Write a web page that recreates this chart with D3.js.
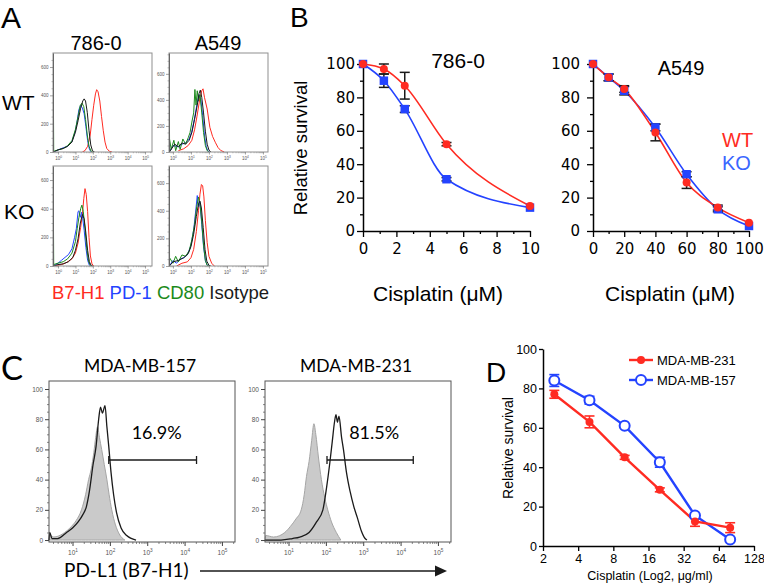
<!DOCTYPE html>
<html><head><meta charset="utf-8">
<script src="https://cdn.jsdelivr.net/npm/d3@7"></script>
<style>body{margin:0;background:#fff}svg{display:block}</style>
</head><body>
<svg id="fig" width="764" height="584"></svg>
<script>
// ================= DATA =================
// Panel A: flow histograms, points are [log10 intensity, event count]
const flowCells = ["786-0", "A549"];
const flowRows = ["WT", "KO"];
const flowMarkers = ["B7-H1", "PD-1", "CD80", "Isotype"];
const histLogTicks = [0, 1, 2, 3, 4, 5];
const histCountTicks = [0, 200, 400, 600];

const a786WT_B7H1 = [[1.4,0],[1.55,10],[1.7,40],[1.85,120],[1.95,230],[2.05,330],[2.15,410],[2.22,440],[2.3,425],[2.4,360],[2.5,250],[2.6,150],[2.7,70],[2.8,25],[2.95,5],[3.1,0]];
const a786WT_PD1 = [[-0.25,0],[0,15],[0.3,30],[0.55,40],[0.8,75],[1.0,150],[1.1,220],[1.2,300],[1.3,330],[1.4,310],[1.5,270],[1.6,180],[1.7,80],[1.8,20],[1.9,0]];
const a786WT_CD80 = [[-0.28,690],[-0.25,5],[0,15],[0.3,25],[0.55,45],[0.8,80],[1.0,160],[1.15,250],[1.28,330],[1.38,345],[1.48,320],[1.58,230],[1.68,120],[1.78,40],[1.9,5],[2.0,0]];
const a786WT_Iso = [[-0.25,0],[0,15],[0.3,25],[0.55,40],[0.8,70],[1.0,140],[1.15,220],[1.3,310],[1.42,360],[1.5,375],[1.58,360],[1.68,280],[1.78,150],[1.88,50],[1.98,8],[2.1,0]];

const aA549WT_B7H1 = [[0.3,10],[0.6,25],[0.85,50],[1.05,90],[1.2,170],[1.33,270],[1.5,415],[1.6,470],[1.67,485],[1.75,420],[1.9,330],[2.05,190],[2.2,120],[2.35,75],[2.5,35],[2.65,12],[2.85,0]];
const aA549WT_PD1 = [[-0.2,0],[0,50],[0.3,40],[0.5,60],[0.7,70],[0.9,100],[1.05,160],[1.2,260],[1.35,380],[1.45,440],[1.55,400],[1.65,280],[1.75,130],[1.85,40],[1.95,5],[2.05,0]];
const aA549WT_CD80 = [[-0.21,740],[-0.19,100],[-0.1,20],[0.05,90],[0.15,10],[0.3,80],[0.4,20],[0.55,100],[0.7,60],[0.85,110],[0.95,150],[1.05,230],[1.15,300],[1.22,480],[1.28,360],[1.35,470],[1.42,390],[1.5,440],[1.6,300],[1.7,150],[1.8,50],[1.9,10],[2.0,0]];
const aA549WT_Iso = [[-0.2,0],[0.1,60],[0.3,40],[0.5,70],[0.7,60],[0.9,90],[1.05,150],[1.2,250],[1.35,360],[1.45,450],[1.52,475],[1.6,420],[1.7,300],[1.8,160],[1.9,60],[2.0,15],[2.1,0]];

const a786KO_B7H1 = [[-0.25,0],[0.2,10],[0.5,25],[0.8,50],[1.0,90],[1.15,160],[1.3,270],[1.4,360],[1.48,470],[1.55,540],[1.62,500],[1.7,380],[1.78,200],[1.86,70],[1.95,15],[2.05,0]];
const a786KO_PD1 = [[-0.25,0],[0,20],[0.2,40],[0.4,60],[0.6,80],[0.8,120],[0.95,200],[1.05,260],[1.15,380],[1.2,385],[1.28,340],[1.35,375],[1.42,330],[1.5,250],[1.6,130],[1.7,40],[1.8,5],[1.9,0]];
const a786KO_CD80 = [[-0.28,690],[-0.25,10],[0,20],[0.3,30],[0.55,50],[0.8,90],[1.0,170],[1.1,260],[1.2,340],[1.3,400],[1.37,425],[1.45,380],[1.55,260],[1.65,120],[1.75,35],[1.85,5],[1.95,0]];
const a786KO_Iso = [[-0.25,0],[0,10],[0.3,15],[0.6,30],[0.85,60],[1.0,110],[1.15,190],[1.28,300],[1.4,360],[1.5,330],[1.6,230],[1.7,110],[1.8,30],[1.9,5],[2.0,0]];

const aA549KO_B7H1 = [[0.2,0],[0.5,20],[0.8,30],[1.0,60],[1.15,120],[1.3,250],[1.42,400],[1.5,520],[1.58,590],[1.65,580],[1.72,500],[1.8,330],[1.9,170],[2.0,70],[2.15,20],[2.3,0]];
const aA549KO_PD1 = [[-0.2,0],[0,40],[0.2,20],[0.4,50],[0.6,60],[0.8,80],[1.0,150],[1.15,260],[1.28,420],[1.35,510],[1.42,430],[1.5,460],[1.6,300],[1.7,140],[1.8,40],[1.9,5],[2.0,0]];
const aA549KO_CD80 = [[-0.21,720],[-0.19,60],[0,20],[0.15,70],[0.3,30],[0.5,80],[0.7,70],[0.9,110],[1.05,190],[1.2,300],[1.32,430],[1.42,500],[1.5,450],[1.6,320],[1.7,150],[1.8,40],[1.9,5],[2.0,0]];
const aA549KO_Iso = [[-0.2,0],[0,30],[0.3,40],[0.6,60],[0.85,90],[1.0,140],[1.15,230],[1.3,360],[1.42,450],[1.5,470],[1.58,420],[1.68,280],[1.78,120],[1.88,35],[2.0,5],[2.1,0]];

// Panel B: dose-response (relative survival, %)
const survivalTicks = [0, 20, 40, 60, 80, 100];
const dose786 = [0, 1.25, 2.5, 5, 10];
const wt786 = [100, 97, 87, 52, 15];
const wt786Err = [0, 3, 8, 1, 0];
const ko786 = [100, 90, 73, 31, 14];
const ko786Err = [0, 4, 2, 1, 0];
const dose786Ticks = [0, 2, 4, 6, 8, 10];

const doseA549 = [0, 10, 20, 40, 60, 80, 100];
const wtA549 = [100, 92, 85, 59, 29, 14, 5];
const wtA549Err = [0, 2, 2, 5, 3.5, 1.5, 0];
const koA549 = [100, 92, 84, 62, 34, 13, 3];
const koA549Err = [0, 2, 2.5, 2, 1.5, 1.5, 0];
const doseA549Ticks = [0, 20, 40, 60, 80, 100];

// Panel C: PD-L1 flow (log10 intensity, % of max)
const flowCTicks = [1, 2, 3, 4, 5];
const pctTicks = [0, 20, 40, 60, 80, 100];
const c157Iso = [[0.37,0],[0.39,3],[0.5,2],[0.73,4],[0.97,9],[1.1,13],[1.24,20],[1.35,30],[1.43,40],[1.5,47],[1.57,58],[1.62,68],[1.67,75],[1.72,68],[1.78,60],[1.85,50],[1.92,40],[1.98,30],[2.05,20],[2.15,10],[2.25,4],[2.4,0]];
const c157PDL1 = [[0.37,0],[0.39,5],[0.45,1],[0.6,1],[0.84,5],[1.0,8],[1.15,12],[1.28,17],[1.37,22],[1.45,32],[1.55,50],[1.63,62],[1.7,80],[1.75,88],[1.8,84],[1.87,89],[1.92,75],[1.97,62],[2.03,45],[2.1,30],[2.18,18],[2.3,8],[2.45,3],[2.7,0]];
const c231Iso = [[0.37,0],[0.39,3],[0.6,2],[0.9,5],[1.05,9],[1.2,14],[1.34,20],[1.42,30],[1.48,42],[1.55,52],[1.62,66],[1.68,77],[1.73,70],[1.8,55],[1.88,40],[1.97,28],[2.05,20],[2.15,12],[2.28,5],[2.4,0]];
const c231PDL1 = [[0.37,0],[0.8,0],[1.1,1],[1.3,2],[1.55,5],[1.75,12],[1.92,20],[2.02,35],[2.1,50],[2.17,65],[2.23,78],[2.27,83],[2.31,78],[2.35,82],[2.42,68],[2.47,60],[2.55,45],[2.65,32],[2.75,22],[2.84,15],[2.95,6],[3.05,1],[3.1,0]];
const gate157 = [1.97, 4.32, 53];
const gate231 = [2.03, 4.34, 53];
const pct157 = "16.9%";
const pct231 = "81.5%";

// Panel D
const doseD = [2.5, 5, 10, 20, 40, 80];
const doseDTicks = [2, 4, 8, 16, 32, 64, 128];
const mb231 = [77, 63, 45, 28.5, 12.5, 9.3];
const mb231Err = [2, 3, 1, 1, 2.5, 2.5];
const mb157 = [84, 74, 61, 42.5, 15.5, 3.3];
const mb157Err = [3, 2, 0.8, 2.5, 1, 0];

// ================= DRAWING =================
const SANS = "'Liberation Sans', Arial, Helvetica, sans-serif";
const LATO = "Lato, 'Open Sans', sans-serif";
const RED = "#ff2b22", BLUE = "#2443ff", GREEN = "#1b8a1b", BLK = "#1a1a1a";
const svg = d3.select("#fig");
svg.append("rect").attr("width", 764).attr("height", 584).attr("fill", "#fff");

function txt(g, x, y, s, size, opts = {}) {
  return g.append("text").attr("x", x).attr("y", y).text(s)
    .style("font-family", opts.font || SANS).style("font-size", size + "px")
    .attr("fill", opts.fill || "#000").attr("text-anchor", opts.anchor || "start");
}

function supTicks(axisG, size, y, fill) {
  axisG.selectAll(".tick").append("text").attr("y", y).attr("fill", fill)
    .attr("text-anchor", "middle").style("font-size", size + "px").style("font-family", SANS)
    .each(function (d) {
      const t = d3.select(this);
      t.append("tspan").text("10");
      t.append("tspan").attr("dy", -size * 0.4).style("font-size", (size * 0.72) + "px").text(d);
    });
}

function logMinor(dom) {
  const out = [];
  for (let k = Math.floor(dom[0]); k < dom[1]; k++)
    for (let i = 2; i <= 9; i++) { const v = k + Math.log10(i); if (v > dom[0] && v < dom[1]) out.push(v); }
  return out;
}

// ---------- Panel A ----------
let clipId = 0;
function flowA(x0, y0, w, h, xDom, yMax, series) {
  const g = svg.append("g");
  const xs = d3.scaleLinear(xDom, [x0, x0 + w]);
  const ys = d3.scaleLinear([0, yMax], [y0 + h, y0]);
  const id = "clipA" + (clipId++);
  svg.append("clipPath").attr("id", id).append("rect").attr("x", x0).attr("y", y0).attr("width", w).attr("height", h);
  const line = d3.line().x(d => xs(d[0])).y(d => ys(d[1]));
  const pg = g.append("g").attr("clip-path", `url(#${id})`);
  series.forEach(s => pg.append("path").attr("d", line(s.data)).attr("fill", "none")
    .attr("stroke", s.color).attr("stroke-width", 1).attr("stroke-linejoin", "round"));
  g.append("rect").attr("x", x0).attr("y", y0).attr("width", w).attr("height", h)
    .attr("fill", "none").attr("stroke", "#8f8f8f").attr("stroke-width", 1);
  const ya = g.append("g").attr("transform", `translate(${x0},0)`)
    .call(d3.axisLeft(ys).tickValues(histCountTicks).tickSize(3).tickPadding(1.5).tickSizeOuter(0));
  ya.select(".domain").attr("stroke", "#666");
  ya.selectAll("text").style("font-size", "4.5px").style("font-family", SANS).attr("fill", "#555");
  ya.selectAll("line").attr("stroke", "#666").attr("stroke-width", 0.6);
  const ym = g.append("g").attr("transform", `translate(${x0},0)`)
    .call(d3.axisLeft(ys).tickValues(d3.range(50, yMax, 50).filter(v => v % 200 !== 0)).tickSize(1.5).tickFormat(""));
  ym.select(".domain").remove(); ym.selectAll("line").attr("stroke", "#777").attr("stroke-width", 0.5);
  const xa = g.append("g").attr("transform", `translate(0,${y0 + h})`)
    .call(d3.axisBottom(xs).tickValues(histLogTicks).tickSize(2.5).tickFormat(""));
  xa.select(".domain").remove(); xa.selectAll("line").attr("stroke", "#666").attr("stroke-width", 0.6);
  supTicks(xa, 4.5, 8, "#555");
  const xm = g.append("g").attr("transform", `translate(0,${y0 + h})`)
    .call(d3.axisBottom(xs).tickValues(logMinor(xDom)).tickSize(1.3).tickFormat(""));
  xm.select(".domain").remove(); xm.selectAll("line").attr("stroke", "#777").attr("stroke-width", 0.4);
}
const colA = [RED, BLUE, GREEN, BLK];
const mk = arrs => arrs.map((d, i) => ({ data: d, color: colA[i] }));
flowA(53, 53, 99, 99, [-0.29, 5.4], 699, mk([a786WT_B7H1, a786WT_PD1, a786WT_CD80, a786WT_Iso]));
flowA(169, 53, 99, 99, [-0.22, 5.28], 760, mk([aA549WT_B7H1, aA549WT_PD1, aA549WT_CD80, aA549WT_Iso]));
flowA(53, 166, 99, 100, [-0.29, 5.4], 698, mk([a786KO_B7H1, a786KO_PD1, a786KO_CD80, a786KO_Iso]));
flowA(169, 166, 99, 100, [-0.22, 5.28], 724, mk([aA549KO_B7H1, aA549KO_PD1, aA549KO_CD80, aA549KO_Iso]));

txt(svg, 1, 28, "A", 30);
txt(svg, 96, 50, flowCells[0], 20, { anchor: "middle" });
txt(svg, 218, 50, flowCells[1], 20, { anchor: "middle" });
txt(svg, 2, 110, flowRows[0], 21);
txt(svg, 4, 219, flowRows[1], 21);
const leg = txt(svg, 52, 299, "", 18.5);
flowMarkers.forEach((m, i) => leg.append("tspan").text((i ? " " : "") + m).attr("fill", colA[i]));

// ---------- Panel B ----------
function doseB(xDom, xRange, xTicks, xMinor, dose, wt, wtE, ko, koE, padY) {
  const g = svg.append("g");
  const xs = d3.scaleLinear(xDom, xRange);
  const ys = d3.scaleLinear([0, 100], [231, 64]);
  const styleAx = a => {
    a.select(".domain").attr("stroke", "#000").attr("stroke-width", 1.5);
    a.selectAll("line").attr("stroke", "#000").attr("stroke-width", 1.3);
    a.selectAll("text").style("font-family", "'DejaVu Sans', sans-serif").style("font-size", "15px").attr("fill", "#000");
  };
  const yMinor = g.append("g").attr("transform", `translate(${xRange[0]},0)`)
    .call(d3.axisLeft(ys).tickValues([10, 30, 50, 70, 90]).tickSize(3).tickFormat(""));
  yMinor.select(".domain").remove(); yMinor.selectAll("line").attr("stroke-width", 1.3);
  const xMin = g.append("g").attr("transform", `translate(0,231)`)
    .call(d3.axisBottom(xs).tickValues(xMinor).tickSize(3).tickFormat(""));
  xMin.select(".domain").remove(); xMin.selectAll("line").attr("stroke-width", 1.3);
  styleAx(g.append("g").attr("transform", `translate(${xRange[0]},0)`)
    .call(d3.axisLeft(ys).tickValues(survivalTicks).tickSize(6).tickPadding(padY).tickSizeOuter(0)));
  styleAx(g.append("g").attr("transform", `translate(0,231)`)
    .call(d3.axisBottom(xs).tickValues(xTicks).tickSize(6).tickPadding(6).tickSizeOuter(0)));
  const line = d3.line().x((d, i) => xs(dose[i])).y(d => ys(d)).curve(d3.curveMonotoneX);
  g.append("path").attr("d", line(ko)).attr("fill", "none").attr("stroke", BLUE).attr("stroke-width", 1.6);
  g.append("path").attr("d", line(wt)).attr("fill", "none").attr("stroke", RED).attr("stroke-width", 1.6);
  const errs = (vals, es) => vals.forEach((v, i) => {
    if (!es[i]) return;
    const x = xs(dose[i]), y1 = ys(v + es[i]), y2 = ys(v - es[i]);
    g.append("line").attr("x1", x).attr("x2", x).attr("y1", y1).attr("y2", y2).attr("stroke", BLK).attr("stroke-width", 1.5);
    [y1, y2].forEach(y => g.append("line").attr("x1", x - 5).attr("x2", x + 5).attr("y1", y).attr("y2", y).attr("stroke", BLK).attr("stroke-width", 1.5));
  });
  errs(ko, koE); errs(wt, wtE);
  g.selectAll(null).data(ko).join("path").attr("d", d3.symbol(d3.symbolSquare, 72))
    .attr("transform", (d, i) => `translate(${xs(dose[i])},${ys(d)})`).attr("fill", BLUE);
  g.selectAll(null).data(wt).join("circle").attr("cx", (d, i) => xs(dose[i])).attr("cy", d => ys(d))
    .attr("r", 4).attr("fill", RED);
}
doseB([0, 10], [363, 530], dose786Ticks, [1, 3, 5, 7, 9], dose786, wt786, wt786Err, ko786, ko786Err, 2);
doseB([0, 100], [593, 749], doseA549Ticks, [10, 30, 50, 70, 90], doseA549, wtA549, wtA549Err, koA549, koA549Err, 7);

txt(svg, 290, 27, "B", 28);
txt(svg, 458, 68, flowCells[0], 21, { anchor: "middle" });
txt(svg, 681, 75, flowCells[1], 20, { anchor: "middle" });
svg.append("text").attr("transform", "translate(307,148) rotate(-90)").attr("text-anchor", "middle")
  .style("font-family", SANS).style("font-size", "18.5px").text("Relative survival");
txt(svg, 438, 301, "Cisplatin (\u03bcM)", 21, { anchor: "middle" });
txt(svg, 670, 301, "Cisplatin (\u03bcM)", 21, { anchor: "middle" });
txt(svg, 722, 147, flowRows[0], 20, { fill: RED });
txt(svg, 722, 170, flowRows[1], 20, { fill: "#3a66ff" });

// ---------- Panel C ----------
function flowC(x0, title, iso, pdl1, gate, pct) {
  const y0 = 381, w = 186, h = 161;
  const g = svg.append("g");
  const xDom = [0.37, 5.35];
  const xs = d3.scaleLinear(xDom, [x0, x0 + w]);
  const ys = d3.scaleLinear([-1.3, 105.3], [y0 + h, y0]);
  const area = d3.area().x(d => xs(d[0])).y0(ys(0)).y1(d => ys(d[1])).curve(d3.curveMonotoneX);
  const line = d3.line().x(d => xs(d[0])).y(d => ys(d[1])).curve(d3.curveMonotoneX);
  g.append("path").attr("d", area(iso)).attr("fill", "#cacaca").attr("stroke", "#a5a5a5").attr("stroke-width", 1);
  g.append("path").attr("d", line(pdl1)).attr("fill", "none").attr("stroke", BLK).attr("stroke-width", 1.3);
  g.append("rect").attr("x", x0).attr("y", y0).attr("width", w).attr("height", h)
    .attr("fill", "none").attr("stroke", "#555").attr("stroke-width", 1);
  const ya = g.append("g").attr("transform", `translate(${x0},0)`)
    .call(d3.axisLeft(ys).tickValues(pctTicks).tickSize(4).tickPadding(2).tickSizeOuter(0));
  ya.select(".domain").remove();
  ya.selectAll("line").attr("stroke", "#444");
  ya.selectAll("text").style("font-size", "6.5px").style("font-family", SANS).attr("fill", "#555");
  const ym = g.append("g").attr("transform", `translate(${x0},0)`)
    .call(d3.axisLeft(ys).tickValues(d3.range(5, 105, 5).filter(v => v % 20)).tickSize(2).tickFormat(""));
  ym.select(".domain").remove(); ym.selectAll("line").attr("stroke", "#555").attr("stroke-width", 0.7);
  const xa = g.append("g").attr("transform", `translate(0,${y0 + h})`)
    .call(d3.axisBottom(xs).tickValues(flowCTicks).tickSize(4).tickFormat(""));
  xa.select(".domain").remove(); xa.selectAll("line").attr("stroke", "#444");
  supTicks(xa, 6.5, 13, "#555");
  const xm = g.append("g").attr("transform", `translate(0,${y0 + h})`)
    .call(d3.axisBottom(xs).tickValues(logMinor(xDom)).tickSize(2).tickFormat(""));
  xm.select(".domain").remove(); xm.selectAll("line").attr("stroke", "#555").attr("stroke-width", 0.7);
  const gy = ys(gate[2]);
  g.append("line").attr("x1", xs(gate[0])).attr("x2", xs(gate[1])).attr("y1", gy).attr("y2", gy).attr("stroke", BLK).attr("stroke-width", 1.3);
  [gate[0], gate[1]].forEach(v => g.append("line").attr("x1", xs(v)).attr("x2", xs(v)).attr("y1", gy - 4).attr("y2", gy + 4).attr("stroke", BLK).attr("stroke-width", 1.3));
  txt(svg, (xs(gate[0]) + xs(gate[1])) / 2 + 4, 439, pct, 18, { font: LATO, anchor: "middle" });
  txt(svg, x0 + w / 2 - 2, 372, title, 17.5, { font: LATO, anchor: "middle" });
}
flowC(49, "MDA-MB-157", c157Iso, c157PDL1, gate157, pct157);
flowC(265, "MDA-MB-231", c231Iso, c231PDL1, gate231, pct231);
txt(svg, 1, 380, "C", 33, { font: LATO });
txt(svg, 64, 577, "PD-L1 (B7-H1)", 19, { font: LATO });
svg.append("line").attr("x1", 200).attr("x2", 437).attr("y1", 571).attr("y2", 571).attr("stroke", BLK).attr("stroke-width", 1.6);
svg.append("path").attr("d", "M447,571 L435,565.5 L435,576.5 Z").attr("fill", BLK);

// ---------- Panel D ----------
{
  const g = svg.append("g");
  const xs = d3.scaleLog().base(2).domain([2, 128]).range([543, 754]);
  const ys = d3.scaleLinear([0, 100], [546, 349]);
  const sty = a => {
    a.select(".domain").attr("stroke", "#000").attr("stroke-width", 1.5);
    a.selectAll("line").attr("stroke", "#000").attr("stroke-width", 1.3);
    a.selectAll("text").style("font-family", SANS).style("font-size", "12.5px").attr("fill", "#000");
  };
  sty(g.append("g").attr("transform", "translate(543,0)")
    .call(d3.axisLeft(ys).tickValues(survivalTicks).tickSize(4).tickPadding(2).tickSizeOuter(0)));
  sty(g.append("g").attr("transform", "translate(0,546)")
    .call(d3.axisBottom(xs).tickValues(doseDTicks).tickFormat(d3.format("d")).tickSize(5).tickPadding(3).tickSizeOuter(0)));
  const line = d3.line().x((d, i) => xs(doseD[i])).y(d => ys(d));
  const errs = (vals, es, col) => vals.forEach((v, i) => {
    if (!es[i]) return;
    const x = xs(doseD[i]), y1 = ys(v + es[i]), y2 = ys(v - es[i]);
    g.append("line").attr("x1", x).attr("x2", x).attr("y1", y1).attr("y2", y2).attr("stroke", col).attr("stroke-width", 1.6);
    [y1, y2].forEach(y => g.append("line").attr("x1", x - 5).attr("x2", x + 5).attr("y1", y).attr("y2", y).attr("stroke", col).attr("stroke-width", 1.6));
  });
  g.append("path").attr("d", line(mb157)).attr("fill", "none").attr("stroke", BLUE).attr("stroke-width", 2.4);
  errs(mb157, mb157Err, BLUE);
  g.append("path").attr("d", line(mb231)).attr("fill", "none").attr("stroke", RED).attr("stroke-width", 2.4);
  errs(mb231, mb231Err, RED);
  g.selectAll(null).data(mb157).join("circle").attr("cx", (d, i) => xs(doseD[i])).attr("cy", d => ys(d))
    .attr("r", 5).attr("fill", "#fff").attr("stroke", BLUE).attr("stroke-width", 2);
  g.selectAll(null).data(mb231).join("circle").attr("cx", (d, i) => xs(doseD[i])).attr("cy", d => ys(d))
    .attr("r", 4).attr("fill", RED);
  // legend
  g.append("line").attr("x1", 629).attr("x2", 653).attr("y1", 360).attr("y2", 360).attr("stroke", RED).attr("stroke-width", 2.4);
  g.append("circle").attr("cx", 641).attr("cy", 360).attr("r", 4).attr("fill", RED);
  g.append("line").attr("x1", 629).attr("x2", 653).attr("y1", 380).attr("y2", 380).attr("stroke", BLUE).attr("stroke-width", 2.4);
  g.append("circle").attr("cx", 641).attr("cy", 380).attr("r", 5).attr("fill", "#fff").attr("stroke", BLUE).attr("stroke-width", 2);
  txt(g, 657, 365, "MDA-MB-231", 13);
  txt(g, 657, 385, "MDA-MB-157", 13);
  g.append("text").attr("transform", "translate(513,448) rotate(-90)").attr("text-anchor", "middle")
    .style("font-family", SANS).style("font-size", "14px").text("Relative survival");
  txt(g, 650, 580, "Cisplatin (Log2, \u03bcg/ml)", 12.5, { anchor: "middle" });
  txt(g, 486, 382, "D", 28);
}
</script>
</body></html>
